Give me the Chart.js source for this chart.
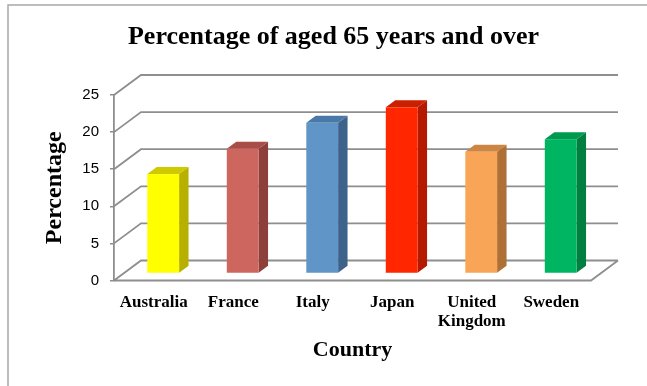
<!DOCTYPE html>
<html>
<head>
<meta charset="utf-8">
<script src="https://cdn.jsdelivr.net/npm/chart.js@4.4.0/dist/chart.umd.min.js"></script>
<style>
  html, body { margin: 0; padding: 0; background: #fff; }
  canvas { display: block; }
</style>
</head>
<body>
<canvas id="agedChart" width="647" height="386"></canvas>
<script>
const countries = ['Australia', 'France', 'Italy', 'Japan', ['United', 'Kingdom'], 'Sweden'];
const agedPct = [13.4, 16.8, 20.3, 22.4, 16.4, 18.1];
const yTicks = [0, 5, 10, 15, 20, 25];

// front, side and top shades of each bar
const faceColors = ['#ffff00', '#cd665e', '#6095c8', '#ff2600', '#f9a557', '#00b561'];
const sideColors = ['#b8b000', '#8c4039', '#3e638a', '#b31a00', '#ae7035', '#007f40'];
const topColors  = ['#cfc900', '#a84e46', '#4a78a8', '#cc1f00', '#cc8543', '#009a4e'];

const DEPTH_X = 27, DEPTH_Y = -20;     // offset of the back wall
const BAR_FRONT = 0.35, BAR_BACK = 0.7; // where the bars sit in the depth
const lineGray = '#8e8e8e';
const serif = 'Liberation Serif, Times New Roman, serif';

const frame3d = {
  id: 'frame3d',
  beforeDraw(chart) {
    const ctx = chart.ctx;
    ctx.save();
    ctx.fillStyle = '#fff';
    ctx.fillRect(0, 0, chart.width, chart.height);
    ctx.strokeStyle = '#a8a8a8';
    ctx.lineWidth = 1.5;
    ctx.beginPath();
    ctx.moveTo(8, chart.height);
    ctx.lineTo(8, 5);
    ctx.lineTo(chart.width, 5);
    ctx.stroke();
    ctx.restore();
  },
  beforeDatasetsDraw(chart) {
    const { ctx, scales: { x, y }, chartArea: a } = chart;
    ctx.save();

    // side wall, back wall and floor
    ctx.strokeStyle = lineGray;
    ctx.lineWidth = 1.8;
    ctx.beginPath();
    yTicks.forEach(v => {
      const py = y.getPixelForValue(v);
      ctx.moveTo(a.left, py);
      ctx.lineTo(a.left + DEPTH_X, py + DEPTH_Y);
      ctx.lineTo(a.right + DEPTH_X, py + DEPTH_Y);
    });
    const y0 = y.getPixelForValue(0);
    ctx.moveTo(a.left, y0);
    ctx.lineTo(a.right, y0);
    ctx.lineTo(a.right + DEPTH_X, y0 + DEPTH_Y);
    ctx.stroke();

    // 3D bars
    const ox = DEPTH_X * (BAR_BACK - BAR_FRONT);
    const oy = DEPTH_Y * (BAR_BACK - BAR_FRONT);
    chart.getDatasetMeta(0).data.forEach((bar, i) => {
      const w = bar.width;
      const x0 = bar.x - w / 2 + DEPTH_X * BAR_FRONT;
      const x1 = x0 + w;
      const top = bar.y + DEPTH_Y * BAR_FRONT;
      const base = bar.base + DEPTH_Y * BAR_FRONT;

      ctx.fillStyle = sideColors[i];
      ctx.beginPath();
      ctx.moveTo(x1, top);
      ctx.lineTo(x1 + ox, top + oy);
      ctx.lineTo(x1 + ox, base + oy);
      ctx.lineTo(x1, base);
      ctx.closePath();
      ctx.fill();

      ctx.fillStyle = topColors[i];
      ctx.beginPath();
      ctx.moveTo(x0, top);
      ctx.lineTo(x0 + ox, top + oy);
      ctx.lineTo(x1 + ox, top + oy);
      ctx.lineTo(x1, top);
      ctx.closePath();
      ctx.fill();

      ctx.fillStyle = faceColors[i];
      ctx.fillRect(x0, top, w, base - top);
    });
    ctx.restore();
    return false;
  }
};

new Chart(document.getElementById('agedChart'), {
  type: 'bar',
  data: {
    labels: countries,
    datasets: [{
      data: agedPct,
      backgroundColor: faceColors,
      barPercentage: 0.4,
      categoryPercentage: 1
    }]
  },
  options: {
    responsive: false,
    animation: false,
    events: [],
    layout: { padding: { left: 20, right: 0, top: 0, bottom: 0 } },
    plugins: {
      legend: { display: false },
      tooltip: { enabled: false },
      title: {
        display: true,
        text: 'Percentage of aged 65 years and over',
        color: '#000',
        font: { family: serif, weight: 'bold', size: 26, lineHeight: 1.2 },
        padding: { top: 21.4, bottom: 42.4 }
      }
    },
    scales: {
      x: {
        grid: { display: false, drawTicks: false },
        border: { display: false },
        ticks: {
          color: '#000',
          font: { family: serif, weight: 'bold', size: 17, lineHeight: 1.15 },
          padding: 12,
          maxRotation: 0,
          autoSkip: false
        },
        title: {
          display: true,
          text: 'Country',
          color: '#000',
          font: { family: serif, weight: 'bold', size: 22, lineHeight: 1.2 },
          padding: { top: 0, bottom: 22.8 }
        },
        afterFit(s) { s.height = 105.5; }
      },
      y: {
        min: 0,
        max: 25,
        afterBuildTicks(s) { s.ticks = yTicks.map(v => ({ value: v })); },
        ticks: {
          color: '#000',
          font: { family: 'Liberation Sans, Arial, sans-serif', size: 15 },
          padding: 11
        },
        grid: { drawOnChartArea: false, drawTicks: true, tickLength: 4, color: lineGray, lineWidth: 1.5 },
        border: { display: true, color: lineGray, width: 1.8 },
        title: {
          display: true,
          text: 'Percentage',
          color: '#000',
          font: { family: serif, weight: 'bold', size: 24, lineHeight: 1.2 },
          padding: { top: 20.6, bottom: 0 }
        },
        afterFit(s) { s.width = 94; }
      },
      // empty box that keeps room on the right for the back wall
      yRight: {
        position: 'right',
        display: true,
        grid: { display: false },
        border: { display: false },
        ticks: { display: false },
        afterFit(s) { s.width = 56; }
      }
    }
  },
  plugins: [frame3d]
});
</script>
</body>
</html>
